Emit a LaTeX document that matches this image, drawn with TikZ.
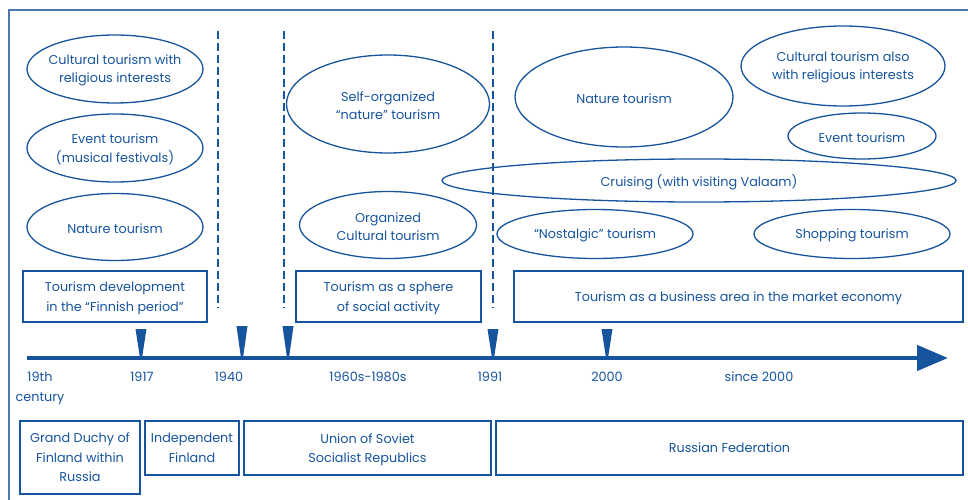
\documentclass[tikz,border=0pt]{standalone}
\usepackage{fontspec}
\setmainfont{Poppins}
\usetikzlibrary{arrows.meta}
\definecolor{tourblue}{RGB}{22,84,158}
\definecolor{frameblue}{RGB}{74,122,176}
\tikzset{
  ovalline/.style={draw=tourblue,line width=1.3pt},
  ovaltext/.style={text=tourblue,align=center,inner sep=0pt,yshift=-1.5pt,font=\fontsize{12.8}{18.5}\selectfont},
  periodbox/.style={rectangle,draw=tourblue,line width=1.3pt,text=tourblue,align=center,inner sep=0pt,text depth=0pt,font=\fontsize{12.8}{19.5}\selectfont},
  yearlabel/.style={text=tourblue,align=center,inner sep=0pt,font=\fontsize{12.8}{20}\selectfont},
  divider/.style={draw=tourblue,line width=1.3pt,dash pattern=on 8pt off 4pt},
  timeline/.style={draw=tourblue,line width=4.5pt,-{Triangle[length=31pt,width=25pt]}}
}
\begin{document}
\begin{tikzpicture}[x=1pt,y=-1pt]
\useasboundingbox (0,0) rectangle (968,500);
% frame
\draw[frameblue,line width=1.5pt] (970,10) -- (9,10) -- (9,502);
% period dividers
\foreach \x in {218,284,493}
  \draw[divider] (\x,31) -- (\x,308);
% forms of tourism
\draw[ovalline] (115,69) ellipse [x radius=88pt,y radius=34pt] node[ovaltext] (cultrel) {Cultural tourism with\\religious interests};
\draw[ovalline] (115,148) ellipse [x radius=88pt,y radius=34pt] node[ovaltext] (eventfest) {Event tourism\\(musical festivals)};
\draw[ovalline] (115,227) ellipse [x radius=88pt,y radius=33.5pt] node[ovaltext] (natureold) {Nature tourism};
\draw[ovalline] (388,104) ellipse [x radius=101.5pt,y radius=49pt] node[ovaltext] (selfnature) {Self-organized\\“nature” tourism};
\draw[ovalline] (388,225) ellipse [x radius=88.5pt,y radius=33.5pt] node[ovaltext] (orgcult) {Organized\\Cultural tourism};
\draw[ovalline] (624,97) ellipse [x radius=109pt,y radius=50pt] node[ovaltext] (naturenew) {Nature tourism};
\draw[ovalline] (843,66) ellipse [x radius=102pt,y radius=40pt] node[ovaltext] (cultalso) {Cultural tourism also\\with religious interests};
\draw[ovalline] (862,136) ellipse [x radius=74pt,y radius=23pt] node[ovaltext] (eventnew) {Event tourism};
\draw[ovalline] (699,180.5) ellipse [x radius=257pt,y radius=21.5pt] node[ovaltext] (cruise) {Cruising (with visiting Valaam)};
\draw[ovalline] (595,234) ellipse [x radius=98pt,y radius=24.5pt] node[ovaltext] (nostalgic) {“Nostalgic” tourism};
\draw[ovalline] (852,234) ellipse [x radius=98pt,y radius=24.5pt] node[ovaltext] (shopping) {Shopping tourism};
% tourism periods
\node[periodbox,minimum width=184,minimum height=51] (finnish) at (115,296.5) {Tourism development\\in the “Finnish period”};
\node[periodbox,minimum width=185,minimum height=51] (social) at (388.5,296.5) {Tourism as a sphere\\of social activity};
\node[periodbox,minimum width=449,minimum height=51] (business) at (738.5,296.5) {Tourism as a business area in the market economy};
% time axis
\coordinate (axisstart) at (27,358);
\coordinate (axisend) at (948,358);
\draw[timeline] (axisstart) -- (axisend);
\foreach \x/\y in {141/329,242/326,288/326,493/329,607/329}
  \fill[tourblue] (\x-5.5,\y) -- (\x+5.5,\y) -- (\x+1,358) -- (\x-1,358) -- cycle;
\node[yearlabel,anchor=north] (y19th) at (40,372) {19th\\century};
\node[yearlabel,anchor=north] (y1917) at (142,372) {1917};
\node[yearlabel,anchor=north] (y1940) at (229,372) {1940};
\node[yearlabel,anchor=north] (y1960) at (368,372) {1960s-1980s};
\node[yearlabel,anchor=north] (y1991) at (490,372) {1991};
\node[yearlabel,anchor=north] (y2000) at (607,372) {2000};
\node[yearlabel,anchor=north] (ysince) at (759,372) {since 2000};
% states
\node[periodbox,minimum width=120,minimum height=73] (duchy) at (80,457.5) {Grand Duchy of\\Finland within\\Russia};
\node[periodbox,minimum width=94,minimum height=54] (indep) at (192,448) {Independent\\Finland};
\node[periodbox,minimum width=247,minimum height=54] (ussr) at (367.5,448) {Union of Soviet\\Socialist Republics};
\node[periodbox,minimum width=467,minimum height=54] (russia) at (729.5,448) {Russian Federation};
\end{tikzpicture}
\end{document}
